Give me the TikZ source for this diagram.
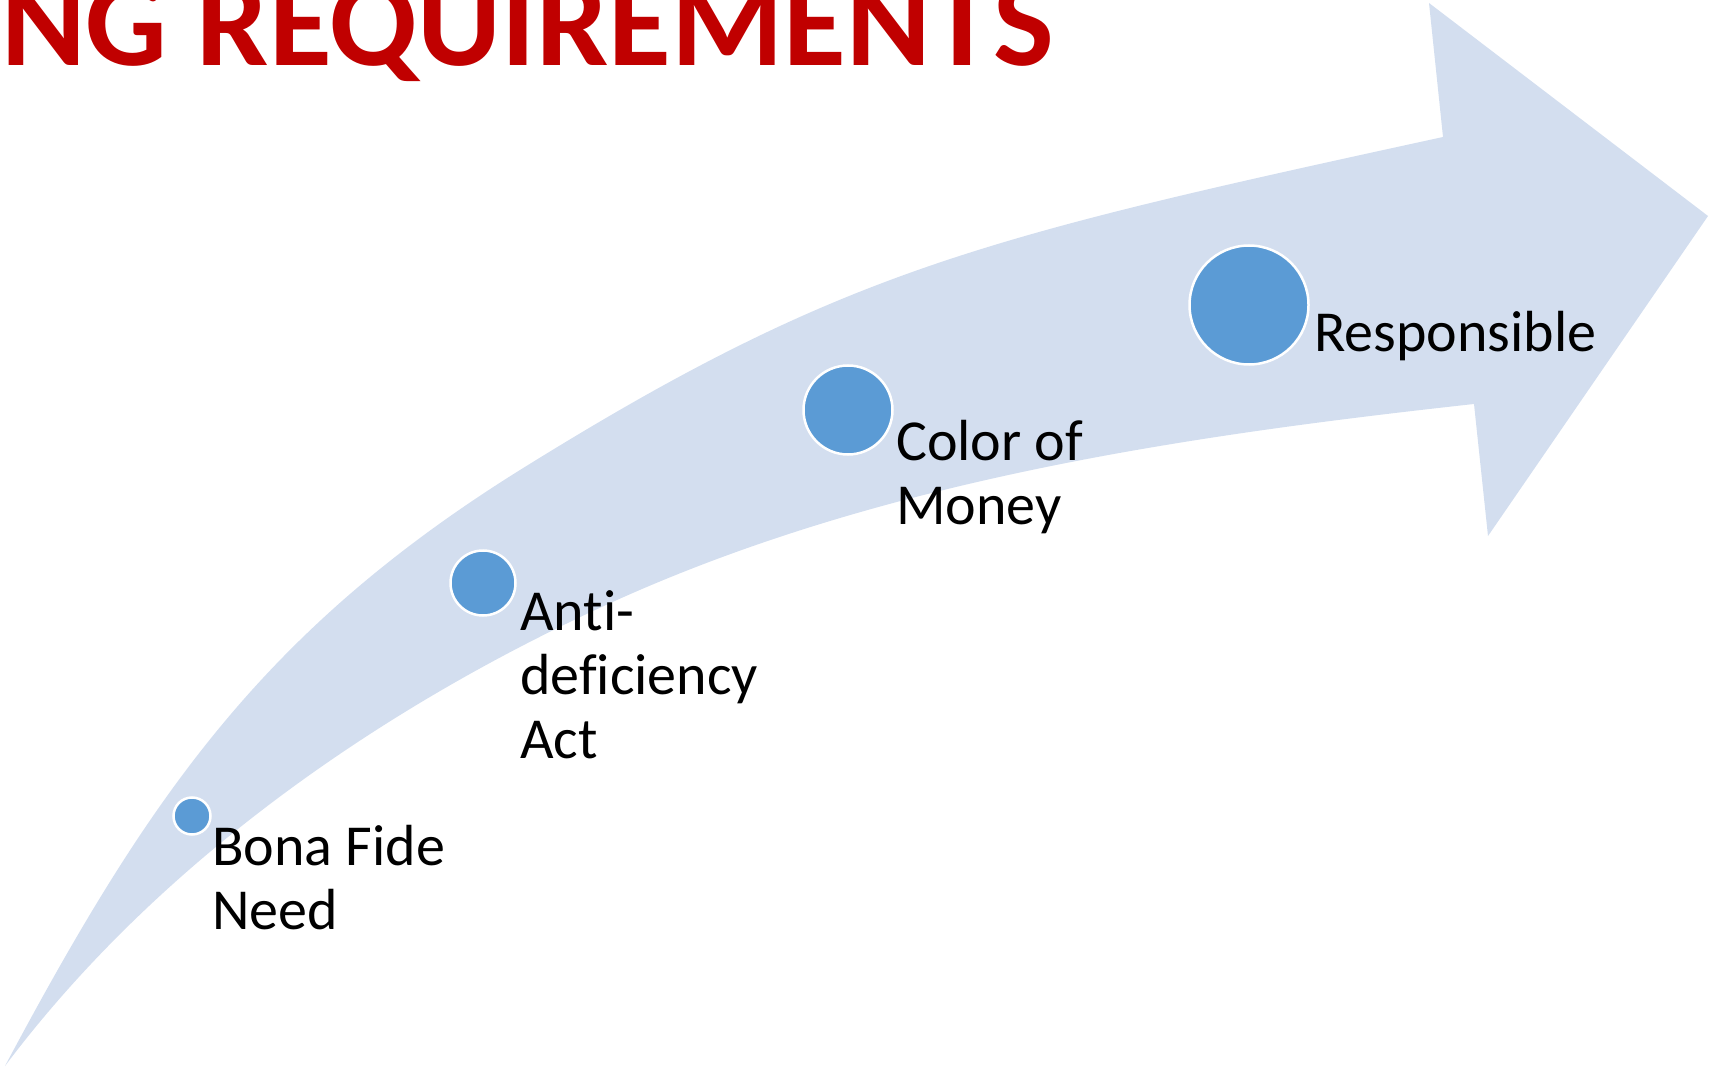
\documentclass[tikz,border=0pt]{standalone}
\usepackage{fontspec}
\setmainfont{Carlito}[Ligatures=NoCommon,RawFeature={-liga;-clig;-dlig}]
\definecolor{arrowfill}{HTML}{D3DEEF}
\definecolor{dotfill}{HTML}{5B9BD5}
\definecolor{titlered}{HTML}{C00000}
\begin{document}
\begin{tikzpicture}[x=1pt,y=-1pt,
  dot/.style={circle,fill=dotfill,draw=white,line width=2.5pt,inner sep=0pt},
  lbl/.style={anchor=base west,inner sep=0pt,font=\fontsize{58}{64}\selectfont},
  ttl/.style={anchor=base west,inner sep=0pt,text=titlered,font=\fontsize{128.5}{140}\selectfont\bfseries}]
\useasboundingbox (0,0) rectangle (1709,1067);
\clip (0,0) rectangle (1709,1067);
% curved arrow
\fill[arrowfill]
  (5,1066) .. controls (148,798) and (262,631) .. (520,470)
  .. controls (843,269) and (984,237) .. (1443,137)
  -- (1429,3) -- (1708,216) -- (1488,536) -- (1474,404)
  .. controls (1183,436) and (884,480) .. (617,600)
  .. controls (384,705) and (159,861) .. (5,1066)
  -- cycle;
% title
\node[ttl] (title) at (1,66) {NG REQUIREMENTS};
% circles
\node[dot,minimum size=37pt] (c1) at (192,816) {};
\node[dot,minimum size=65pt] (c2) at (483,583) {};
\node[dot,minimum size=89pt] (c3) at (848,410) {};
\node[dot,minimum size=119pt] (c4) at (1249,305) {};
% labels
\node[lbl] (l1) at (212,865) {\begin{tabular}[t]{@{}l@{}}Bona Fide\\Need\end{tabular}};
\node[lbl] (l2) at (520,630) {\begin{tabular}[t]{@{}l@{}}Anti-\\deficiency\\Act\end{tabular}};
\node[lbl] (l3) at (896,460) {\begin{tabular}[t]{@{}l@{}}Color of\\Money\end{tabular}};
\node[lbl] (l4) at (1314,352) {Responsible};
\end{tikzpicture}
\end{document}
